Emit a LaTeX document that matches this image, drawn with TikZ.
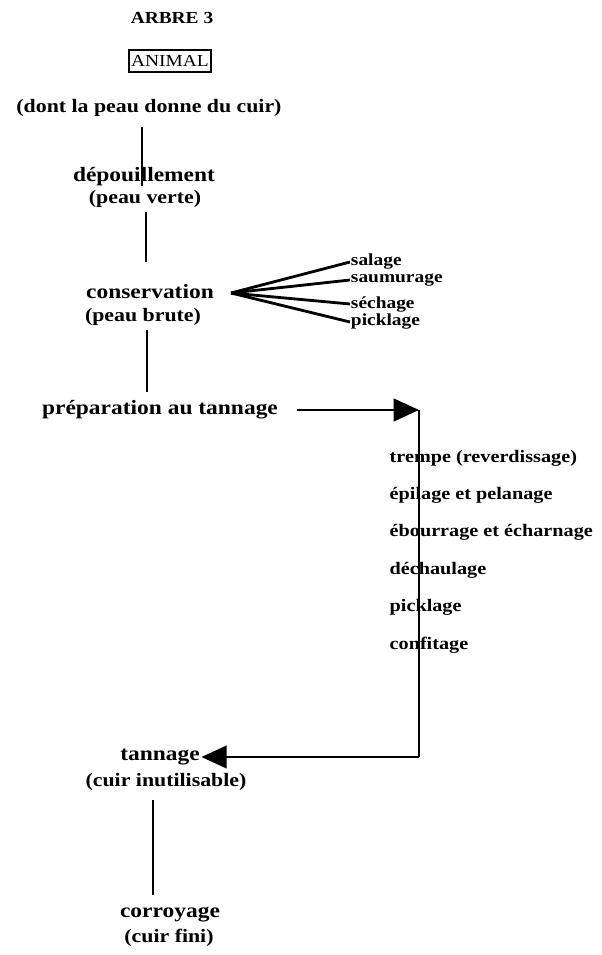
\documentclass[tikz,border=0pt]{standalone}
\usepackage{fontspec}
\setmainfont{Liberation Serif}[FakeStretch=1.15]
\usetikzlibrary{positioning, arrows.meta}
\tikzset{
  titre/.style={font=\fontsize{12}{14}\selectfont\bfseries, inner sep=1pt},
  etape/.style={font=\fontsize{14.5}{16}\selectfont\bfseries, inner sep=1pt},
  etat/.style={font=\fontsize{13.5}{15}\selectfont\bfseries, inner sep=1pt},
  soustache/.style={font=\fontsize{12}{14}\selectfont\bfseries, inner sep=0.5pt, anchor=west},
  tache/.style={font=\fontsize{12.5}{15}\selectfont\bfseries, inner sep=1pt, anchor=west},
  lien/.style={line width=1.5pt},
  branche/.style={line width=2pt},
  fleche/.style={line width=2pt, -{Triangle[length=18pt, width=16pt]}},
}
\begin{document}
\begin{tikzpicture}[x=0.025cm, y=-0.025cm]
  \useasboundingbox (0,0) rectangle (601,955);
  % haut de l'arbre
  \node[titre] (titre) at (172,18) {ARBRE 3};
  \node[draw, line width=1.2pt, minimum width=1.85cm, minimum height=0.55cm, inner xsep=1.5pt,
    inner ysep=1pt, font=\fontsize{12}{14}\selectfont] (animal) at (170,61) {ANIMAL};
  \node[etat] (cuir) at (149,108) {(dont la peau donne du cuir)};
  \node[etape] (depouil) at (144,177) {dépouillement};
  \node[etat] (verte) at (145,199) {(peau verte)};
  \node[etape] (conserv) at (150,292) {conservation};
  \node[etat] (brute) at (143,317) {(peau brute)};
  \coordinate (a1) at (142,127);
  \coordinate (a2) at (142,186);
  \coordinate (b1) at (146,212);
  \coordinate (b2) at (146,262);
  \draw[lien] (a1) -- (a2);
  \draw[lien] (b1) -- (b2);
  % les modes de conservation
  \coordinate (fan) at (231,293);
  \node[soustache] (salage) at (350,262) {salage};
  \node[soustache] (saumur) at (350,280) {saumurage};
  \node[soustache] (sechage) at (350,304) {séchage};
  \node[soustache] (pickl1) at (350,322) {picklage};
  \foreach \n in {salage,saumur,sechage,pickl1}
    \draw[branche] (fan) -- (\n.west);
  \coordinate (c1) at (147,330);
  \coordinate (c2) at (147,392);
  \draw[lien] (c1) -- (c2);
  % preparation
  \node[etape] (prep) at (160,410) {préparation au tannage};
  \coordinate (depart) at (297,410);
  \coordinate (haut) at (419,410);
  \coordinate (coin) at (419,757);
  \draw[fleche] (depart) -- (haut);
  \node[tache] (trempe) at (388,458) {trempe (reverdissage)};
  \node[tache] (epil) at (388,495) {épilage et pelanage};
  \node[tache] (ebour) at (388,532) {ébourrage et écharnage};
  \node[tache] (dech) at (388,570) {déchaulage};
  \node[tache] (pickl2) at (388,607) {picklage};
  \node[tache] (confit) at (388,645) {confitage};
  % tannage et corroyage
  \node[etape] (tannage) at (160,757) {tannage};
  \node[etat] (inutil) at (166,782) {(cuir inutilisable)};
  \draw[lien] (haut) -- (coin);
  \draw[fleche] (coin) -- (tannage.east);
  \node[etape] (corroy) at (170,915) {corroyage};
  \node[etat] (fini) at (169,938) {(cuir fini)};
  \coordinate (d1) at (153,800);
  \coordinate (d2) at (153,895);
  \draw[lien] (d1) -- (d2);
\end{tikzpicture}
\end{document}
